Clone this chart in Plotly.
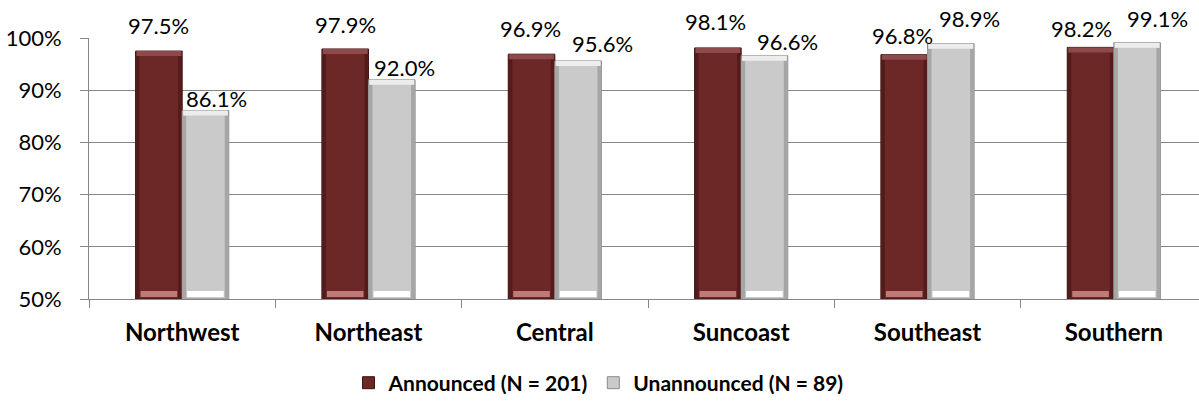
import numpy as np
import plotly.graph_objects as go

# Regions and compliance rates by inspection type
regions = ["Northwest", "Northeast", "Central", "Suncoast", "Southeast", "Southern"]
announced = [0.975, 0.979, 0.969, 0.981, 0.968, 0.982]
unannounced = [0.861, 0.920, 0.956, 0.966, 0.989, 0.991]
series_names = ["Announced (N = 201)", "Unannounced (N = 89)"]
y_ticks = [0.5, 0.6, 0.7, 0.8, 0.9, 1.0]

FONT = "Lato, 'Open Sans', sans-serif"
BAR_W = 0.25            # bar width in category units
Y_MIN = 0.5
PX_X = 1 / 186.4        # one pixel along x, in data units
PX_Y = 0.5 / 261        # one pixel along y, in data units

# colours: face, side edge, top bevel, bottom highlight, outline
styles = [
    dict(face="#6C2727", edge="#541B1B", top="#8E4A4A", low="#C07A7A", line="#3E1212"),
    dict(face="#CACACA", edge="#A6A6A6", top="#EDEDED", low="#FFFFFF", line="#8A8A8A"),
]

# hand-placed label nudges (px) so neighbouring labels don't collide: (dx, dy)
label_nudge = [
    [(0, 10), (0, 9), (-1, 10), (-2, 11), (-2, 4), (-9, 3)],
    [(11, -3), (13, -3), (24, 2), (23, -1), (19, 10), (20, 9)],
]

pos = np.arange(len(regions), dtype=float)
fig = go.Figure()
annotations = []

for k, (vals, name, st) in enumerate(zip([announced, unannounced], series_names, styles)):
    vals = np.array(vals)
    off = -BAR_W if k == 0 else 0.0
    e = 4 * PX_X          # side bevel width
    t = 5 * PX_Y          # top bevel height
    b0, b1 = 2 * PX_Y, 8 * PX_Y  # bottom highlight band

    # main body
    fig.add_trace(go.Bar(
        x=pos, y=vals - Y_MIN, base=Y_MIN, width=BAR_W, offset=off, name=name,
        marker=dict(color=st["face"], line=dict(color=st["line"], width=1)),
        legendgroup=name, showlegend=True, hoverinfo="skip"))
    # side bevels
    for side_off in (off, off + BAR_W - e):
        fig.add_trace(go.Bar(
            x=pos, y=vals - Y_MIN - t, base=Y_MIN, width=e, offset=side_off,
            marker=dict(color=st["edge"], line=dict(width=0)),
            legendgroup=name, showlegend=False, hoverinfo="skip"))
    # top bevel
    fig.add_trace(go.Bar(
        x=pos, y=np.full_like(vals, t), base=vals - t, width=BAR_W - 2 * PX_X, offset=off + PX_X,
        marker=dict(color=st["top"], line=dict(width=0)),
        legendgroup=name, showlegend=False, hoverinfo="skip"))
    # bottom highlight
    fig.add_trace(go.Bar(
        x=pos, y=np.full_like(vals, b1 - b0), base=Y_MIN + b0, width=BAR_W - 2 * e - 2 * PX_X,
        offset=off + e + PX_X,
        marker=dict(color=st["low"], line=dict(width=0)),
        legendgroup=name, showlegend=False, hoverinfo="skip"))
    # value labels
    for i, v in enumerate(vals):
        dx, dy = label_nudge[k][i]
        annotations.append(dict(
            x=pos[i] + off + BAR_W / 2, y=v, xref="x", yref="y",
            text=f"{v * 100:.1f}%", showarrow=False,
            xanchor="center", yanchor="bottom", xshift=dx, yshift=dy,
            font=dict(family=FONT, size=22, color="#000000")))

fig.update_layout(
    width=1199, height=404,
    margin=dict(l=89, r=0, t=38, b=105),
    paper_bgcolor="white", plot_bgcolor="white",
    barmode="overlay",
    font=dict(family=FONT, color="#000000"),
    showlegend=True,
    annotations=annotations,
    legend=dict(orientation="h", x=0.459, xanchor="center", y=-0.322, yanchor="middle",
                font=dict(family=FONT, size=21, weight="bold"), traceorder="normal",
                itemwidth=30, itemclick=False),
)

fig.update_xaxes(
    range=[-0.5, 5.5 - 8 * PX_X],
    tickvals=pos, ticktext=regions, ticks="",
    tickfont=dict(family=FONT, size=24, weight="bold"),
    ticklabelstandoff=12,
    showgrid=False, zeroline=False,
    showline=True, linecolor="#868686", linewidth=1,
    minor=dict(tick0=-0.5, dtick=1, ticks="outside", ticklen=8, tickcolor="#868686", showgrid=False),
)
fig.update_yaxes(
    range=[Y_MIN, 1.0], tickvals=y_ticks, tickformat=".0%",
    ticks="outside", ticklen=8, tickcolor="#868686",
    tickfont=dict(family=FONT, size=22),
    ticklabelstandoff=14,
    showgrid=True, gridcolor="#868686", gridwidth=1,
    zeroline=False, showline=True, linecolor="#868686", linewidth=1,
)

fig.write_html("out.html")
